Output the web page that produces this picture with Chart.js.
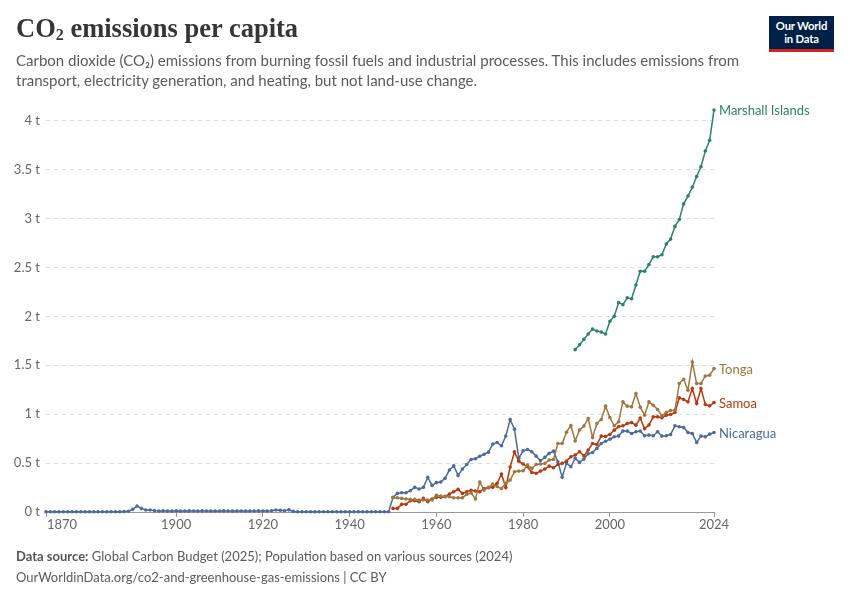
<!DOCTYPE html>
<html>
<head>
<meta charset="utf-8">
<title>CO₂ emissions per capita</title>
<script src="https://cdn.jsdelivr.net/npm/chart.js@4.4.1/dist/chart.umd.min.js"></script>
<style>
  html, body { margin: 0; padding: 0; background: #fff; }
  #wrap { position: relative; width: 850px; height: 600px; overflow: hidden; font-family: Lato, sans-serif; }
  #myChart { position: absolute; left: 0; top: 0; }
  h1 { position: absolute; left: 16px; top: 13px; margin: 0; font-family: "Liberation Serif", serif; font-weight: bold; font-size: 26.5px; color: #363636; }
  h1 sub { font-size: 16px; vertical-align: -3px; line-height: 0; }
  .sub { position: absolute; left: 16px; top: 51px; width: 780px; margin: 0; font-size: 15px; line-height: 19.5px; color: #5b5b5b; }
  .logo { position: absolute; left: 769px; top: 16px; width: 65px; background: #002147; border-bottom: 3px solid #ce261e; color: #fff; font-weight: bold; font-size: 11.3px; line-height: 12.5px; text-align: center; padding-top: 4px; height: 29px; letter-spacing: -0.2px; }
  .foot { position: absolute; left: 16px; top: 546px; font-size: 13px; line-height: 20.5px; color: #5b5b5b; }
  .foot b { color: #555; }
</style>
</head>
<body>
<div id="wrap">
  <canvas id="myChart" width="850" height="600"></canvas>
  <h1>CO<sub>2</sub> emissions per capita</h1>
  <p class="sub">Carbon dioxide (CO₂) emissions from burning fossil fuels and industrial processes. This includes emissions from<br>transport, electricity generation, and heating, but not land-use change.</p>
  <div class="logo">Our World<br>in Data</div>
  <div class="foot"><b>Data source:</b> Global Carbon Budget (2025); Population based on various sources (2024)<br>OurWorldinData.org/co2-and-greenhouse-gas-emissions | CC BY</div>
</div>
<script>
'use strict';

// DATA (tonnes of CO2 per person, one value per year)

let nicaraguaStart = 1870;
let nicaragua = [
  0.003, 0.003, 0.003, 0.003, 0.003, 0.003, 0.003, 0.003, 0.003, 0.003,
  0.003, 0.003, 0.003, 0.003, 0.003, 0.003, 0.003, 0.003, 0.004, 0.008,
  0.027, 0.061, 0.037, 0.021, 0.020, 0.014, 0.009, 0.011, 0.010, 0.010,
  0.011, 0.010, 0.010, 0.011, 0.010, 0.010, 0.011, 0.010, 0.010, 0.010,
  0.010, 0.011, 0.010, 0.009, 0.010, 0.010, 0.009, 0.010, 0.010, 0.011,
  0.009, 0.010, 0.012, 0.020, 0.017, 0.013, 0.022, 0.006, 0.003, 0.003,
  0.003, 0.003, 0.003, 0.003, 0.003, 0.003, 0.003, 0.003, 0.003, 0.003,
  0.003, 0.003, 0.003, 0.003, 0.003, 0.003, 0.003, 0.003, 0.003, 0.003,
  0.15, 0.19, 0.197, 0.197, 0.218, 0.252, 0.235, 0.252, 0.354, 0.272,
  0.30, 0.306, 0.344, 0.429, 0.473, 0.374, 0.439, 0.486, 0.537, 0.544,
  0.57, 0.59, 0.612, 0.694, 0.711, 0.677, 0.776, 0.946, 0.847, 0.55,
  0.626, 0.639, 0.616, 0.571, 0.524, 0.558, 0.599, 0.622, 0.514, 0.356,
  0.50, 0.462, 0.548, 0.507, 0.541, 0.595, 0.609, 0.650, 0.701, 0.724,
  0.745, 0.769, 0.776, 0.827, 0.827, 0.803, 0.82, 0.827, 0.78, 0.786,
  0.78, 0.82, 0.776, 0.78, 0.793, 0.881, 0.871, 0.864, 0.813, 0.803,
  0.711, 0.776, 0.769, 0.796, 0.813
];

let samoaStart = 1950;
let samoa = [
  0.037, 0.037, 0.078, 0.078, 0.116, 0.116, 0.105, 0.139, 0.105, 0.133,
  0.15, 0.15, 0.156, 0.184, 0.207, 0.231, 0.19, 0.207, 0.222, 0.215,
  0.207, 0.241, 0.248, 0.252, 0.293, 0.388, 0.25, 0.46, 0.615, 0.52,
  0.49, 0.463, 0.405, 0.395, 0.418, 0.439, 0.469, 0.452, 0.486, 0.497,
  0.52, 0.565, 0.582, 0.616, 0.575, 0.633, 0.701, 0.69, 0.776, 0.772,
  0.793, 0.837, 0.871, 0.881, 0.905, 0.915, 0.888, 0.96, 0.852, 0.89,
  0.973, 0.973, 0.963, 0.99, 0.997, 1.017, 1.167, 1.15, 1.126, 1.262,
  1.109, 1.262, 1.099, 1.085, 1.119
];

let tongaStart = 1950;
let tonga = [
  0.146, 0.146, 0.139, 0.133, 0.129, 0.129, 0.122, 0.122, 0.122, 0.122,
  0.17, 0.163, 0.16, 0.156, 0.146, 0.146, 0.146, 0.18, 0.195, 0.133,
  0.305, 0.224, 0.252, 0.286, 0.26, 0.24, 0.293, 0.327, 0.412, 0.418,
  0.422, 0.48, 0.446, 0.486, 0.49, 0.497, 0.531, 0.537, 0.701, 0.701,
  0.816, 0.885, 0.726, 0.838, 0.878, 0.956, 0.762, 0.905, 0.946, 1.082,
  0.966, 0.881, 0.922, 1.126, 1.082, 1.075, 1.211, 1.072, 0.99, 1.126,
  1.092, 1.048, 0.983, 1.017, 1.037, 1.041, 1.313, 1.357, 1.245, 1.534,
  1.313, 1.313, 1.391, 1.398, 1.466
];

let marshallStart = 1992;
let marshall = [
  1.66, 1.71, 1.765, 1.82, 1.87, 1.85, 1.84, 1.82, 1.95, 2.00,
  2.14, 2.12, 2.19, 2.18, 2.32, 2.46, 2.46, 2.53, 2.61, 2.61,
  2.63, 2.74, 2.79, 2.92, 2.99, 3.15, 3.23, 3.32, 3.43, 3.53,
  3.69, 3.80, 4.11
];

let xTicks = [1870, 1900, 1920, 1940, 1960, 1980, 2000, 2024];
let yTicks = [0, 0.5, 1, 1.5, 2, 2.5, 3, 3.5, 4];

// FUNCTIONS

function toPoints(start, values) {
  let pts = [];
  for (let i = 0; i < values.length; i++) {
    pts.push({ x: start + i, y: values[i] });
  }
  return pts;
}

function makeSeries(name, start, values, color) {
  return {
    label: name,
    data: toPoints(start, values),
    borderColor: color,
    backgroundColor: color,
    borderWidth: 1.5,
    pointRadius: 1.8,
    pointBorderWidth: 0,
    pointBackgroundColor: color,
    tension: 0,
    clip: false
  };
}

// line-end labels and the x tick labels (1870 sits right of its tick like the original)
const endLabels = {
  id: 'endLabels',
  afterDatasetsDraw(chart) {
    let ctx = chart.ctx;
    ctx.save();
    ctx.font = '13px Lato';
    ctx.textBaseline = 'middle';
    ctx.textAlign = 'left';
    chart.data.datasets.forEach(function (ds, i) {
      let pts = chart.getDatasetMeta(i).data;
      let last = pts[pts.length - 1];
      ctx.fillStyle = ds.borderColor;
      ctx.fillText(ds.label, last.x + 5, last.y + 1);
    });

    let xs = chart.scales.x;
    ctx.fillStyle = '#666';
    ctx.font = '13px Lato';
    ctx.textBaseline = 'top';
    xTicks.forEach(function (t, i) {
      let px = xs.getPixelForValue(t);
      ctx.textAlign = i === 0 ? 'left' : 'center';
      ctx.fillText(String(t), i === 0 ? px + 1 : px, chart.chartArea.bottom + 6);
    });
    ctx.restore();
  }
};

// EXECUTABLE CODE

const data = {
  datasets: [
    makeSeries('Marshall Islands', marshallStart, marshall, '#2c8465'),
    makeSeries('Tonga', tongaStart, tonga, '#a0763f'),
    makeSeries('Samoa', samoaStart, samoa, '#b63a0e'),
    makeSeries('Nicaragua', nicaraguaStart, nicaragua, '#4c6a9c')
  ]
};

const config = {
  type: 'line',
  data: data,
  options: {
    responsive: false,
    animation: false,
    events: [],
    layout: { padding: { left: 0, top: 109, right: 136, bottom: 0 } },
    plugins: {
      legend: { display: false },
      tooltip: { enabled: false }
    },
    scales: {
      x: {
        type: 'linear',
        min: 1870,
        max: 2024,
        afterBuildTicks: function (axis) {
          axis.ticks = xTicks.map(function (v) { return { value: v }; });
        },
        afterFit: function (axis) { axis.height = 88; },
        ticks: { display: false },
        grid: { drawOnChartArea: false, drawTicks: true, tickLength: 5, color: '#999' },
        border: { display: true, color: '#999' }
      },
      y: {
        min: 0,
        max: 4.12,
        afterBuildTicks: function (axis) {
          axis.ticks = yTicks.map(function (v) { return { value: v }; });
        },
        afterFit: function (axis) { axis.width = 46; },
        ticks: {
          color: '#666',
          font: { family: 'Lato', size: 13 },
          padding: 6,
          callback: function (v) { return v + ' t'; }
        },
        grid: { color: '#dcdcdc', drawTicks: false },
        border: { display: false, dash: [4, 4] }
      }
    }
  },
  plugins: [endLabels]
};

const myChart = new Chart(document.getElementById('myChart'), config);
</script>
</body>
</html>
